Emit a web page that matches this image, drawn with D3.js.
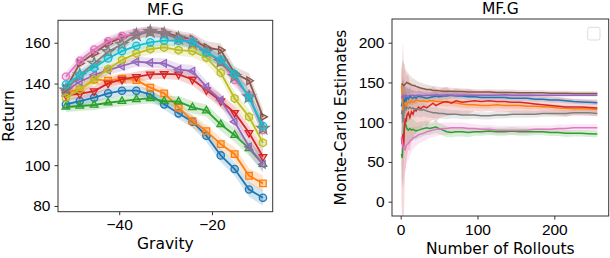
<!DOCTYPE html>
<html>
<head>
<meta charset="utf-8">
<script src="https://cdn.jsdelivr.net/npm/d3@7"></script>
<style>
  html, body { margin: 0; padding: 0; background: #fff; }
  svg { display: block; font-family: "DejaVu Sans", sans-serif; }
  .axis path, .axis line { stroke: #333; }
  .axis text { fill: #000; font-size: 15.5px; }
</style>
</head>
<body>
<svg id="chart" width="610" height="258"></svg>
<script>
/* ── COLORS ── */
const COLORS = ['#1f77b4','#ff7f0e','#2ca02c','#d62728','#9467bd','#8c564b','#e377c2','#7f7f7f','#bcbd22','#17becf'];

/* ── LEFT: return vs gravity ── */
const GRAVITY = [-51.5, -48.5, -45.4, -42.4, -39.4, -36.3, -33.3, -30.3, -27.2, -24.2, -21.2, -18.1, -15.1, -12.0, -9.0];
const RET_BLUE   = [129.8, 131.4, 133.1, 135.2, 136.5, 136.5, 134.7, 129.8, 125.4, 121.3, 114.4, 104.8, 98.1, 88.1, 84.0];
const RET_ORANGE = [135.5, 137.1, 142.0, 141.4, 142.4, 141.7, 138.0, 135.2, 128.3, 121.6, 116.7, 110.3, 105.4, 94.8, 91.1];
const RET_GREEN  = [128.5, 129.0, 129.5, 130.6, 131.4, 132.2, 132.7, 131.4, 131.1, 128.3, 126.7, 120.0, 114.7, 108.2, 100.5];
const RET_RED    = [134.4, 134.9, 136.3, 140.1, 142.0, 143.3, 144.5, 144.7, 144.5, 142.0, 136.8, 131.4, 125.7, 115.9, 104.1];
const RET_PURPLE = [136.5, 140.9, 144.2, 146.6, 148.6, 150.7, 150.2, 149.9, 146.9, 146.1, 138.4, 131.9, 121.3, 109.0, 100.4];
const RET_BROWN  = [137.5, 149.9, 154.8, 159.7, 162.6, 164.6, 165.7, 165.1, 163.0, 161.7, 157.7, 156.4, 145.0, 141.4, 123.7];
const RET_PINK   = [143.4, 151.2, 156.7, 160.8, 163.3, 164.6, 165.4, 164.6, 161.8, 161.0, 155.6, 150.7, 141.7, 134.4, 117.2];
const RET_GRAY   = [136.8, 144.2, 149.9, 155.6, 159.2, 163.8, 165.4, 164.3, 162.1, 159.7, 155.6, 150.7, 143.4, 133.5, 118.0];
const RET_OLIVE  = [133.0, 137.1, 142.0, 147.1, 151.5, 154.8, 156.9, 157.7, 156.4, 155.9, 152.7, 145.3, 132.7, 123.7, 111.0];
const RET_CYAN   = [139.5, 144.2, 147.8, 152.3, 155.9, 158.5, 160.2, 161.0, 161.0, 160.5, 155.1, 151.8, 144.7, 133.1, 119.2];
const RET_BAND   = [2.5, 2.5, 2.5, 2.5, 2.5, 2.5, 2.5, 2.5, 2.8, 3.0, 3.0, 3.2, 3.4, 3.6, 3.8];
const RET_SERIES = [RET_BLUE, RET_ORANGE, RET_GREEN, RET_RED, RET_PURPLE, RET_BROWN, RET_PINK, RET_GRAY, RET_OLIVE, RET_CYAN];
const MARKERS    = ['circle','square','tri-up','tri-down','tri-left','tri-right','octagon','star','hexagon','circle'];
const GRAV_TICKS = [-40, -20];
const RET_TICKS  = [80, 100, 120, 140, 160];

/* ── RIGHT: Monte-Carlo estimates vs rollouts ── */
const ROLLOUTS = [1,2,3,4,5,6,7,8,10,12,14,16,18,20,23,26,30,34,38,42,46,50,55,60,66,72,80,88,96,105,115,125,135,145,155,165,175,185,195,205,215,225,235,245,256];
const MC_BLUE   = [120,125,118,128,126,130,127,131,129,133,131,130,132,130,133,132,131,130,131,132,133,132,133,133,134,133,133,132,132,131,131,131,131,130,130,130,129,129,128,128,127,126,125.5,125,124.5];
const MC_ORANGE = [146,135,118,112,120,125,118,122,126,124,127,125,126,128,127,126,127,126,127,127,126,126,126,125,125,124,123,122,122,121,121,122,121,121,121,120,120,119.5,119,118,117.5,117,117,116.5,116];
const MC_GREEN  = [60,55,75,88,94,98,96,92,90,92,90,91,90,89,90,91,92,93,92,93,94,92,90,88,87,88,88,87,88,88,89,88,88,89,88,88,88,88,87,87,86,86,86,85.5,85];
const MC_RED    = [80,72,85,70,95,105,100,108,112,106,113,110,116,114,119,117,120,118,121,124,121,123,125,126,124,127,125,126,127,126,127,126,126,125,125,124,123,122,121,120,119,119,119,118.5,118];
const MC_PURPLE = [130,132,134,131,133,132,134,133,133,134,133,134,133,133.5,134,134,133.5,134,134,134,134.5,134,134,134.5,134,134,134,134,134,134,134,134,134.5,134,134,134,134,134,134,134,134,134,134,134,134];
const MC_BROWN  = [147,148,147,146,147,148,149,150,149,148,147,146,146,145,144,143,142,141,141,140,140,139.5,139,139,139,138.5,138.5,138,138,138,138,137.5,137.5,137.5,137,137,137,137,136.5,136.5,136.5,136,136,136,136];
const MC_PINK   = [82,76,70,65,68,66,70,72,73,76,78,80,81,82,84,85,86,88,89,90,91,91,92,92,93,93,93,92,92,91,91,90,90,90,90,90,91,91,91,92,92,93,93,93,93];
const MC_GRAY   = [110,115,100,112,120,118,116,119,117,119,117,118,116,117,116,115,116,114,113,112,112,111,111,110,110,110,109,109,109,108,108,109,109,110,110,110,110,111,111,111,111,112,112,112,111];
const MC_SPREAD = [30,40,45,40,30,25,22,20,18,16,14,13,12,11,10,10,9,9,8,8,8,7,7,7,6,6,6,6,5,5,5,5,5,5,5,5,4.5,4.5,4.5,4.5,4.5,4,4,4,4];
const MC_BAND_SCALE = [0.7, 0.8, 1.0, 2.6, 0.5, 0.7, 1.1, 0.9];
const MC_SERIES = [MC_BLUE, MC_ORANGE, MC_GREEN, MC_RED, MC_PURPLE, MC_BROWN, MC_PINK, MC_GRAY];
const RO_TICKS = [0, 100, 200];
const MC_TICKS = [0, 50, 100, 150, 200];

const svg = d3.select('#chart');

/* ── FRAME HELPER ── */
function frame(g, w, h) {
  g.append('rect').attr('width', w).attr('height', h)
    .attr('fill', 'none').attr('stroke', '#333').attr('stroke-width', 1);
}

/* ── MARKER PATHS ── */
function poly(n, r, rot) {
  const pts = [];
  for (let i = 0; i < n; i++) {
    const a = rot + i * 2 * Math.PI / n;
    pts.push([r * Math.cos(a), r * Math.sin(a)]);
  }
  return 'M' + pts.map(p => p.join(',')).join('L') + 'Z';
}
function markerPath(kind) {
  switch (kind) {
    case 'square':    return 'M-3.3,-3.3H3.3V3.3H-3.3Z';
    case 'tri-up':    return poly(3, 4.4, -Math.PI / 2);
    case 'tri-down':  return poly(3, 4.4, Math.PI / 2);
    case 'tri-left':  return poly(3, 4.4, Math.PI);
    case 'tri-right': return poly(3, 4.4, 0);
    case 'octagon':   return poly(8, 3.8, Math.PI / 8);
    case 'hexagon':   return poly(6, 4, -Math.PI / 2);
    case 'star':      return d3.symbol(d3.symbolStar, 45)();
    default:          return d3.symbol(d3.symbolCircle, 42)();
  }
}

/* ══════════════════════════════════════════
   LEFT PANEL
══════════════════════════════════════════ */
(function drawLeft() {
  const L = 58, T = 20.3, W = 214.7, H = 191.4;
  const x = d3.scaleLinear().domain([-53.2, -6.9]).range([0, W]);
  const y = d3.scaleLinear().domain([77.2, 171]).range([H, 0]);
  const g = svg.append('g').attr('transform', `translate(${L},${T})`);

  const clip = g.append('clipPath').attr('id', 'clipL');
  clip.append('rect').attr('width', W).attr('height', H);
  const plot = g.append('g').attr('clip-path', 'url(#clipL)');

  RET_SERIES.forEach((vals, i) => {
    const data = GRAVITY.map((gv, j) => ({ x: gv, y: vals[j], b: RET_BAND[j] }));
    const area = d3.area().x(d => x(d.x)).y0(d => y(d.y - d.b)).y1(d => y(d.y + d.b));
    plot.append('path').datum(data).attr('d', area)
      .attr('fill', COLORS[i]).attr('opacity', 0.2);
  });

  RET_SERIES.forEach((vals, i) => {
    const data = GRAVITY.map((gv, j) => ({ x: gv, y: vals[j] }));
    const line = d3.line().x(d => x(d.x)).y(d => y(d.y));
    plot.append('path').datum(data).attr('d', line)
      .attr('fill', 'none').attr('stroke', COLORS[i]).attr('stroke-width', 1.8);
    plot.selectAll(null).data(data).enter().append('path')
      .attr('d', markerPath(MARKERS[i]))
      .attr('transform', d => `translate(${x(d.x)},${y(d.y)})`)
      .attr('fill', COLORS[i]).attr('fill-opacity', 0.3)
      .attr('stroke', COLORS[i]).attr('stroke-width', 1.3);
  });

  g.append('g').attr('class', 'axis').attr('transform', `translate(0,${H})`)
    .call(d3.axisBottom(x).tickValues(GRAV_TICKS).tickSize(3.5).tickPadding(4))
    .call(a => a.select('.domain').remove());
  g.append('g').attr('class', 'axis')
    .call(d3.axisLeft(y).tickValues(RET_TICKS).tickSize(3.5).tickPadding(4))
    .call(a => a.select('.domain').remove());
  frame(g, W, H);

  svg.append('text').attr('x', L + W / 2).attr('y', 15).attr('text-anchor', 'middle')
    .attr('font-size', 15.5).text('MF.G');
  svg.append('text').attr('x', L + W / 2).attr('y', 249).attr('text-anchor', 'middle')
    .attr('font-size', 15.5).text('Gravity');
  svg.append('text').attr('transform', `translate(13.5,${T + H / 2}) rotate(-90)`)
    .attr('text-anchor', 'middle').attr('font-size', 15.5).text('Return');
})();

/* ══════════════════════════════════════════
   RIGHT PANEL
══════════════════════════════════════════ */
(function drawRight() {
  const L = 392, T = 19, W = 216.7, H = 197;
  const x = d3.scaleLinear().domain([-11.3, 270.8]).range([0, W]);
  const y = d3.scaleLinear().domain([-18, 229.8]).range([H, 0]);
  const g = svg.append('g').attr('transform', `translate(${L},${T})`);

  const clip = g.append('clipPath').attr('id', 'clipR');
  clip.append('rect').attr('width', W).attr('height', H);
  const plot = g.append('g').attr('clip-path', 'url(#clipR)');

  MC_SERIES.forEach((vals, i) => {
    const data = ROLLOUTS.map((r, j) => ({ x: r, y: vals[j], b: MC_SPREAD[j] * MC_BAND_SCALE[i] }));
    const area = d3.area().x(d => x(d.x)).y0(d => y(d.y - d.b)).y1(d => y(d.y + d.b));
    plot.append('path').datum(data).attr('d', area)
      .attr('fill', COLORS[i]).attr('opacity', 0.18);
  });

  MC_SERIES.forEach((vals, i) => {
    const data = ROLLOUTS.map((r, j) => ({ x: r, y: vals[j] }));
    const line = d3.line().x(d => x(d.x)).y(d => y(d.y));
    plot.append('path').datum(data).attr('d', line)
      .attr('fill', 'none').attr('stroke', COLORS[i]).attr('stroke-width', 1.5);
  });

  g.append('g').attr('class', 'axis').attr('transform', `translate(0,${H})`)
    .call(d3.axisBottom(x).tickValues(RO_TICKS).tickSize(3.5).tickPadding(4))
    .call(a => a.select('.domain').remove());
  g.append('g').attr('class', 'axis')
    .call(d3.axisLeft(y).tickValues(MC_TICKS).tickSize(3.5).tickPadding(4))
    .call(a => a.select('.domain').remove());
  frame(g, W, H);

  // empty legend box
  g.append('rect').attr('x', W - 21).attr('y', 8.3).attr('width', 12.3).attr('height', 12.7)
    .attr('rx', 2).attr('fill', '#fff').attr('stroke', '#ddd').attr('stroke-width', 1);

  svg.append('text').attr('x', L + W / 2).attr('y', 14).attr('text-anchor', 'middle')
    .attr('font-size', 15.5).text('MF.G');
  svg.append('text').attr('x', L + W / 2).attr('y', 254).attr('text-anchor', 'middle')
    .attr('font-size', 15.5).text('Number of Rollouts');
  svg.append('text').attr('transform', `translate(346,${T + H / 2}) rotate(-90)`)
    .attr('text-anchor', 'middle').attr('font-size', 15.5).text('Monte-Carlo Estimates');
})();
</script>
</body>
</html>
